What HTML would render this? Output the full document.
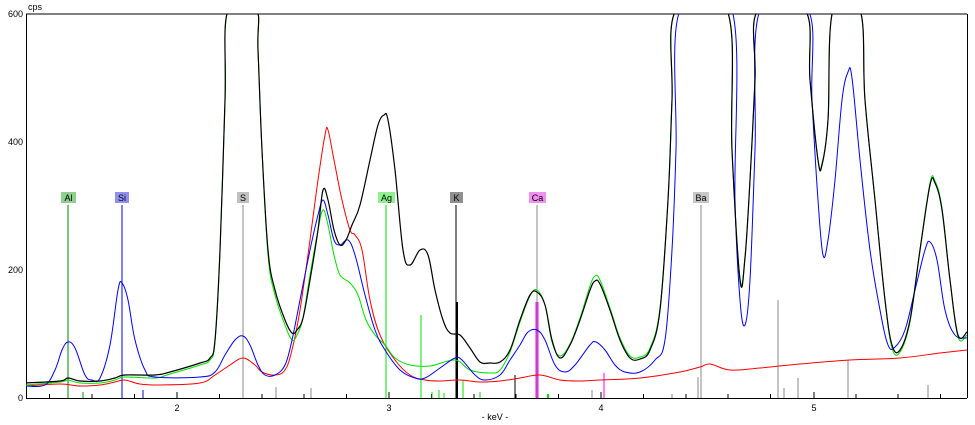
<!DOCTYPE html>
<html><head><meta charset="utf-8"><style>
html,body{margin:0;padding:0;background:#fff;}
svg{display:block;font-family:"Liberation Sans",sans-serif;}
</style></head><body>
<svg id="s" width="975" height="425" viewBox="0 0 975 425" xmlns="http://www.w3.org/2000/svg">
<rect width="975" height="425" fill="#fff"/>
<defs><clipPath id="c"><rect x="26" y="14" width="941" height="384"/></clipPath></defs>
<line x1="26" y1="14" x2="967" y2="14" stroke="#000"/>
<line x1="26.5" y1="14" x2="26.5" y2="398" stroke="#000"/>
<line x1="26" y1="398.5" x2="967" y2="398.5" stroke="#000"/>
<line x1="967.5" y1="14" x2="967.5" y2="398" stroke="#000"/>
<g font-size="9" fill="#000" text-anchor="end">
<text x="23" y="17">600</text><text x="23" y="145">400</text><text x="23" y="273">200</text><text x="23" y="401">0</text>
</g>
<text x="28" y="10" font-size="9">cps</text>
<g font-size="9" text-anchor="middle">
<text x="177" y="411">2</text><text x="389" y="411">3</text><text x="601" y="411">4</text><text x="814" y="411">5</text>
<text x="495" y="420">- keV -</text>
</g>
<g stroke="#000" stroke-width="1">
<path d="M49.5 394V398M92 394V398M134.5 394V398M177 392V398M219.5 394V398M262 394V398M304 394V398M346.5 394V398M389 392V398M431.5 394V398M474 394V398M516 394V398M558.5 394V398M601 392V398M643.5 394V398M686 394V398M728 394V398M770.5 394V398M814 392V398M856 394V398M898 394V398M940.5 394V398"/>
</g>
<g clip-path="url(#c)">
<g stroke-width="1">
<line x1="83" y1="392" x2="83" y2="398" stroke="#00a000"/>
<line x1="143" y1="390" x2="143" y2="398" stroke="#0000ff"/>
<line x1="276" y1="387" x2="276" y2="398" stroke="#888"/>
<line x1="311" y1="388" x2="311" y2="398" stroke="#888"/>
<line x1="421" y1="315" x2="421" y2="398" stroke="#00e000"/>
<line x1="432" y1="392" x2="432" y2="398" stroke="#00e000"/>
<line x1="439" y1="390" x2="439" y2="398" stroke="#00e000"/>
<line x1="444" y1="393" x2="444" y2="398" stroke="#00e000"/>
<line x1="463" y1="380" x2="463" y2="398" stroke="#00e000"/>
<line x1="480" y1="392" x2="480" y2="398" stroke="#00e000"/>
<line x1="515" y1="375" x2="515" y2="398" stroke="#000"/>
<line x1="548" y1="394" x2="548" y2="398" stroke="#00e000" stroke-width="2"/>
<line x1="592" y1="390" x2="592" y2="398" stroke="#888"/>
<line x1="604" y1="373" x2="604" y2="398" stroke="#ff00ff"/>
<line x1="672" y1="394" x2="672" y2="398" stroke="#888"/>
<line x1="698" y1="377" x2="698" y2="398" stroke="#888"/>
<line x1="778" y1="300" x2="778" y2="398" stroke="#888"/>
<line x1="784" y1="388" x2="784" y2="398" stroke="#888"/>
<line x1="798" y1="378" x2="798" y2="398" stroke="#888"/>
<line x1="848" y1="360" x2="848" y2="398" stroke="#888"/>
<line x1="928" y1="385" x2="928" y2="398" stroke="#888"/>
<line x1="457" y1="302" x2="457" y2="398" stroke="#000" stroke-width="2"/>
<line x1="537" y1="302" x2="537" y2="398" stroke="#ff00ff" stroke-width="3"/>
</g>
<line x1="68" y1="205" x2="68" y2="398" stroke="#008000"/>
<line x1="122" y1="205" x2="122" y2="398" stroke="#0000ff"/>
<line x1="243" y1="205" x2="243" y2="398" stroke="#888"/>
<line x1="386" y1="205" x2="386" y2="398" stroke="#00e000"/>
<line x1="456" y1="205" x2="456" y2="398" stroke="#000"/>
<line x1="537" y1="205" x2="537" y2="398" stroke="#888"/>
<line x1="701" y1="205" x2="701" y2="398" stroke="#888"/>
<polyline class="sm" fill="none" stroke="#ff0000" stroke-width="1" points="26,386 60,384 80,386 100,385 115,382 125,380 140,384 160,385 200,383 215,375 230,365 243,358 255,365 262,372 275,375 285,370 292,350 300,310 310,240 318,180 325,135 328,130 334,160 342,200 350,230 355,235 362,250 370,300 380,335 395,360 410,375 425,380 440,381 460,380 480,382 500,381 520,378 540,375 560,380 580,381 600,380 640,378 680,372 700,367 710,364 730,370 760,368 800,364 850,360 900,358 940,353 967,350"/>
<polyline class="sm" fill="none" stroke="#00e000" stroke-width="1" points="26,385 60,382 68,380 80,383 100,383 115,380 125,377 155,378 170,374 200,365 210,360 215,342 220,252 225,102 228,10 256,10 258,50 262,150 268,255 275,295 285,325 292,340 297,335 303,318 310,275 318,230 323,210 328,225 334,255 340,275 350,283 358,295 366,320 375,335 385,345 395,358 410,365 430,366 455,360 470,370 490,373 500,370 510,352 520,322 530,296 537,290 545,305 552,342 560,356 570,344 580,318 590,286 595,276 600,280 610,308 620,338 630,356 640,357 650,348 660,308 668,200 672,100 676,10 727,10 732,150 740,278 745,256 750,180 755,80 758,10 805,10 810,80 818,160 822,163 828,120 833,10 860,10 865,100 875,200 885,300 892,348 900,352 910,322 920,250 930,183 935,181 942,208 950,280 958,337 967,335"/>
<polyline class="sm" fill="none" stroke="#0000ff" stroke-width="1" points="26,386 45,385 55,370 62,350 68,342 75,348 85,375 92,380 100,378 110,345 118,290 122,283 128,300 135,340 145,370 155,377 200,377 215,372 225,355 235,340 243,336 250,345 258,365 265,375 275,375 285,365 292,340 300,300 310,250 318,215 323,200 328,215 334,240 340,245 348,240 355,255 365,295 375,330 385,350 400,370 415,378 425,378 440,368 455,358 462,360 475,375 485,380 500,375 510,360 520,345 528,332 537,330 545,340 555,365 565,372 575,365 590,345 596,342 605,350 615,365 625,372 640,372 655,360 665,340 672,250 676,150 680,10 732,10 735,200 740,300 745,325 750,280 755,150 760,10 808,10 812,100 818,200 823,255 828,240 835,180 842,100 848,72 852,78 860,160 870,250 880,310 888,345 895,347 905,330 915,290 925,250 930,242 937,260 945,310 955,335 967,338"/>
<polyline class="sm" fill="none" stroke="#000" stroke-width="1.2" points="26,383 60,381 68,378 80,381 100,381 115,378 125,375 155,375 170,372 200,363 210,358 215,340 220,250 225,100 228,10 256,10 258,50 262,150 268,250 275,290 285,320 292,333 297,330 303,318 310,280 318,230 323,190 328,200 334,230 340,245 346,240 352,225 360,205 370,160 378,125 384,115 388,120 395,170 403,250 410,265 420,250 428,255 435,290 443,320 450,333 460,335 470,348 480,362 490,363 500,362 510,350 520,320 530,295 537,292 545,305 552,340 560,358 570,345 580,320 590,290 595,281 600,284 610,310 620,340 630,358 640,359 650,350 660,310 668,200 672,100 676,10 727,10 732,150 740,280 745,258 750,180 755,80 758,10 805,10 810,80 818,160 822,165 828,120 833,10 860,10 865,100 875,200 885,300 892,345 900,350 910,320 920,250 930,185 935,183 942,210 950,280 958,335 967,332"/>
</g>
<g font-size="9" text-anchor="middle">
<rect x="61" y="192" width="15" height="11" fill="#8fcf8f"/><text x="68.5" y="201">Al</text>
<rect x="115" y="192" width="14" height="11" fill="#9090f0"/><text x="122" y="201">Si</text>
<rect x="237" y="192" width="12" height="11" fill="#c0c0c0"/><text x="243" y="201">S</text>
<rect x="378" y="192" width="17" height="11" fill="#90f090"/><text x="386.5" y="201">Ag</text>
<rect x="450" y="192" width="13" height="11" fill="#909090"/><text x="456.5" y="201">K</text>
<rect x="529" y="192" width="17" height="11" fill="#f090f0"/><text x="537.5" y="201">Ca</text>
<rect x="693" y="192" width="16" height="11" fill="#c8c8c8"/><text x="701" y="201">Ba</text>
</g>
</svg>
<script>
(function(){
var ns="http://www.w3.org/2000/svg";
var pls=document.querySelectorAll("polyline.sm");
for(var k=0;k<pls.length;k++){
 var pl=pls[k];
 var pts=pl.getAttribute("points").trim().split(/\s+/).map(function(s){var a=s.split(",");return [+a[0],+a[1]];});
 var d="M"+pts[0][0]+","+pts[0][1];
 for(var i=0;i<pts.length-1;i++){
  var p0=pts[i>0?i-1:i],p1=pts[i],p2=pts[i+1],p3=pts[i+2<pts.length?i+2:i+1];
  var t=0.18;
  var c1x=p1[0]+(p2[0]-p0[0])*t,c1y=p1[1]+(p2[1]-p0[1])*t;
  var c2x=p2[0]-(p3[0]-p1[0])*t,c2y=p2[1]-(p3[1]-p1[1])*t;
  d+=" C"+c1x.toFixed(1)+","+c1y.toFixed(1)+" "+c2x.toFixed(1)+","+c2y.toFixed(1)+" "+p2[0]+","+p2[1];
 }
 var p=document.createElementNS(ns,"path");
 p.setAttribute("d",d);p.setAttribute("fill","none");
 p.setAttribute("stroke",pl.getAttribute("stroke"));
 p.setAttribute("stroke-width",pl.getAttribute("stroke-width"));
 pl.parentNode.replaceChild(p,pl);
}
})();
</script>
</body></html>
